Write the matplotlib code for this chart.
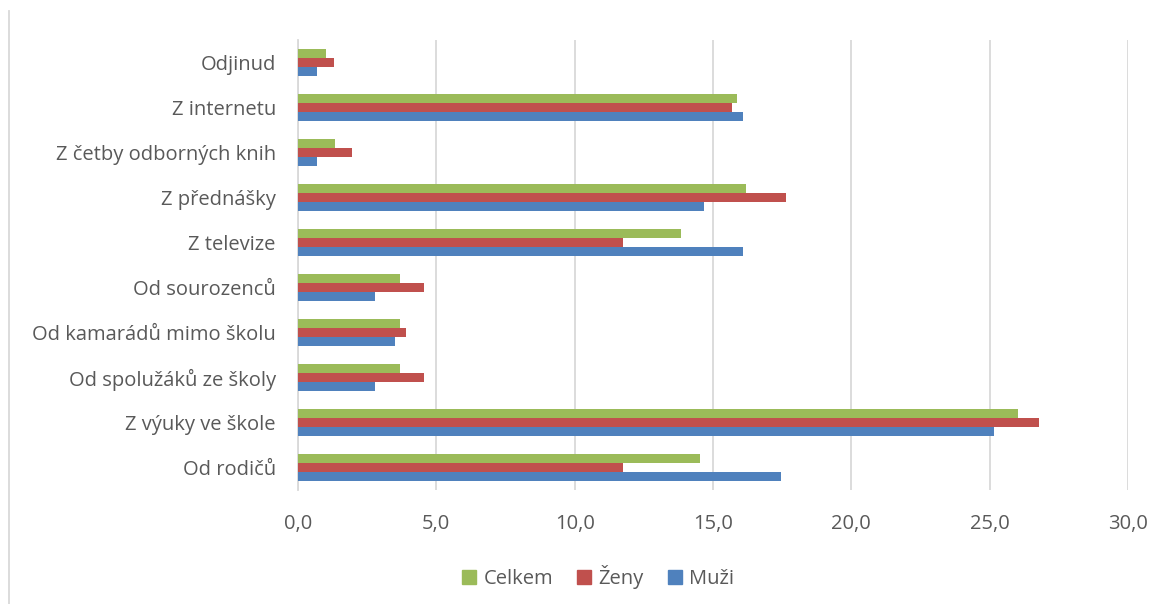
import numpy as np
import matplotlib.pyplot as plt
from matplotlib.lines import Line2D

plt.rcParams['font.family'] = ['Open Sans', 'DejaVu Sans']

kategorie = ['Od rodičů', 'Z výuky ve škole', 'Od spolužáků ze školy',
             'Od kamarádů mimo školu', 'Od sourozenců', 'Z televize',
             'Z přednášky', 'Z četby odborných knih', 'Z internetu', 'Odjinud']
muzi = [17.46, 25.15, 2.78, 3.49, 2.78, 16.07, 14.66, 0.69, 16.07, 0.69]
zeny = [11.75, 26.80, 4.57, 3.92, 4.57, 11.75, 17.64, 1.95, 15.67, 1.29]
celkem = [14.52, 26.02, 3.70, 3.70, 3.70, 13.84, 16.20, 1.33, 15.87, 1.00]
x_ticks = [0, 5, 10, 15, 20, 25, 30]

c_muzi = '#4F81BD'
c_zeny = '#C0504D'
c_celkem = '#9BBB59'
text_col = '#595959'

fig = plt.figure(figsize=(11.69, 6.04), dpi=100)
ax = fig.add_axes([298 / 1169, 1 - 490 / 604, 830 / 1169, 450 / 604])

y = np.arange(len(kategorie))
h = 0.2
ax.barh(y - h, muzi, height=h, color=c_muzi, zorder=3)
ax.barh(y, zeny, height=h, color=c_zeny, zorder=3)
ax.barh(y + h, celkem, height=h, color=c_celkem, zorder=3)

ax.set_xlim(0, 30)
ax.set_ylim(-0.5, len(kategorie) - 0.5)
ax.set_xticks(x_ticks)
ax.set_xticklabels([f'{v:.1f}'.replace('.', ',') for v in x_ticks])
ax.set_yticks(y)
ax.set_yticklabels(kategorie)

ax.grid(axis='x', color='#D9D9D9', linewidth=1.3, zorder=0)
for s in ['top', 'right', 'bottom']:
    ax.spines[s].set_visible(False)
ax.spines['left'].set_color('#D9D9D9')
ax.spines['left'].set_linewidth(1.3)
ax.tick_params(axis='both', length=0, labelsize=14.5, colors=text_col)
ax.tick_params(axis='y', pad=16)
ax.tick_params(axis='x', pad=17)

handles = [Line2D([], [], marker='s', linestyle='', markersize=10, color=c)
           for c in (c_celkem, c_zeny, c_muzi)]
leg = fig.legend(handles, ['Celkem', 'Ženy', 'Muži'], loc='center',
                 bbox_to_anchor=(598 / 1169, 1 - 577 / 604), ncol=3,
                 frameon=False, fontsize=14.5, handlelength=0.7,
                 handletextpad=0.35, columnspacing=1.2)
for t in leg.get_texts():
    t.set_color(text_col)

# outer chart border (left edge)
fig.add_artist(Line2D([9 / 1169, 9 / 1169], [0, 1 - 11 / 604],
                      color='#D9D9D9', linewidth=1.3))

fig.savefig('out.png', dpi=100)
